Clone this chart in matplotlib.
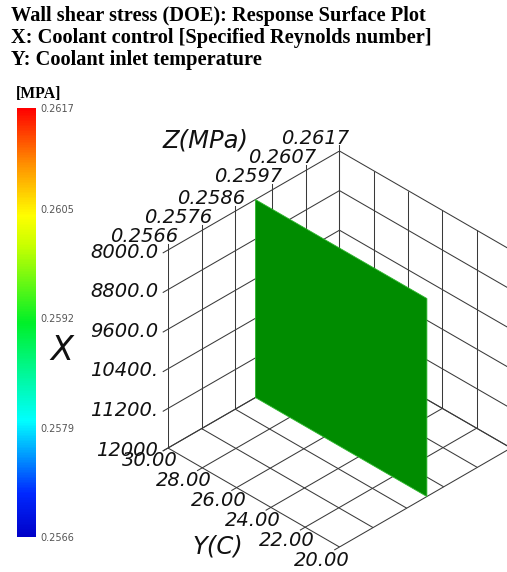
import numpy as np
import matplotlib
matplotlib.use("Agg")
import matplotlib.pyplot as plt
from matplotlib.cm import ScalarMappable
from matplotlib.colors import LinearSegmentedColormap, Normalize

# X: coolant control (Reynolds number), drawn vertically with 8000 on top
X_LIM = (8000.0, 12000.0)
X_TICKS = [8000.0, 8800.0, 9600.0, 10400.0, 11200.0, 12000.0]
X_TICK_LABELS = ["8000.0", "8800.0", "9600.0", "10400.", "11200.", "12000"]

# Y: coolant inlet temperature (C)
Y_LIM = (20.0, 30.0)
Y_TICKS = [30.0, 28.0, 26.0, 24.0, 22.0, 20.0]
Y_TICK_LABELS = ["30.00", "28.00", "26.00", "24.00", "22.00", "20.00"]

# Z: wall shear stress (MPa)
Z_LIM = (0.2566, 0.2617)
Z_TICKS = [0.2566, 0.2576, 0.2586, 0.2597, 0.2607, 0.2617]
Z_TICK_LABELS = ["0.2566", "0.2576", "0.2586", "0.2597", "0.2607", "0.2617"]

# response surface corners (X, Y) and its value
SURF_X = [8000.0, 8000.0, 12000.0, 12000.0]
SURF_Y = [30.0, 20.0, 20.0, 30.0]
SURF_Z = 0.2592

CBAR_TICKS = [0.2566, 0.2579, 0.2592, 0.2605, 0.2617]
CBAR_LABELS = ["0.2566", "0.2579", "0.2592", "0.2605", "0.2617"]

TITLE_LINES = [
    "Wall shear stress (DOE): Response Surface Plot",
    "X: Coolant control [Specified Reynolds number]",
    "Y: Coolant inlet temperature",
]

W, H = 507, 572
COS30, SIN30 = np.cos(np.pi / 6), np.sin(np.pi / 6)
GRID_C = "#3a3a3a"
SURF_C = "#008c00"
TICK_LEN = 0.028
AX_FONT = dict(family="DejaVu Sans", style="italic", color="#111111")


def norm_x(x):
    return (np.asarray(x) - X_LIM[0]) / (X_LIM[1] - X_LIM[0])


def norm_y(y):
    return (Y_LIM[1] - np.asarray(y)) / (Y_LIM[1] - Y_LIM[0])


def norm_z(z):
    return (np.asarray(z) - Z_LIM[0]) / (Z_LIM[1] - Z_LIM[0])


def project(a, b, c):
    """Isometric view: a = Z (up-right), b = Y (down-right), c = X (down)."""
    a, b, c = np.asarray(a, float), np.asarray(b, float), np.asarray(c, float)
    return (a + b) * COS30, (a - b) * SIN30 - c


def seg(ax, p0, p1, **kw):
    xs, ys = project(*np.array([p0, p1]).T)
    ax.plot(xs, ys, color=GRID_C, lw=0.75, solid_capstyle="butt", **kw)


fig = plt.figure(figsize=(W / 100, H / 100), dpi=100)

# title block
for i, line in enumerate(TITLE_LINES):
    fig.text(11 / W, 1 - (21 + 22 * i) / H, line, family="Liberation Serif",
             weight="bold", fontsize=14.7, va="baseline", ha="left")

# colour bar
cmap = LinearSegmentedColormap.from_list("mpa", [
    (0.0, "#0000c8"), (0.1, "#0028ff"), (0.27, "#00ffff"), (0.5, "#00f028"),
    (0.68, "#c8ff00"), (0.75, "#ffff00"), (0.87, "#ff9000"), (1.0, "#ff0000"),
])
cnorm = Normalize(*Z_LIM)
cax = fig.add_axes([17 / W, 1 - 537 / H, 19 / W, 429 / H])
cb = fig.colorbar(ScalarMappable(norm=cnorm, cmap=cmap), cax=cax)
cb.outline.set_visible(False)
cb.set_ticks(CBAR_TICKS, labels=CBAR_LABELS)
cax.tick_params(length=0, pad=3, labelsize=7, labelcolor="#555555")
fig.text(16 / W, 1 - 98 / H, "[MPA]", family="Liberation Serif", weight="bold",
         fontsize=11.3, va="baseline", ha="left")

# isometric box
ax = fig.add_axes([168 / W, 1 - 547 / H, 2 * COS30 * 198 / W, 396 / H])
ax.set_xlim(0, 2 * COS30)
ax.set_ylim(-1.5, 0.5)
ax.axis("off")

za = norm_z(Z_TICKS)
yb = norm_y(Y_TICKS)
xc = norm_x(X_TICKS)

# back-left wall (Y = 30)
for a in za:
    seg(ax, (a, 0, 0), (a, 0, 1))
for c in xc:
    seg(ax, (0, 0, c), (1, 0, c))
# back-right wall (Z = max)
for b in yb:
    seg(ax, (1, b, 0), (1, b, 1), clip_on=False)
for c in xc:
    seg(ax, (1, 0, c), (1, 1, c), clip_on=False)
# floor (X = 12000)
for a in za:
    seg(ax, (a, 0, 1), (a, 1, 1))
for b in yb:
    seg(ax, (0, b, 1), (1, b, 1))

# tick marks, continuing the grid lines outward
for a in za:
    x0, y0 = project(a, 0, 0)
    ax.plot([x0, x0], [y0, y0 + TICK_LEN], color=GRID_C, lw=0.75, clip_on=False)
for c in xc:
    x0, y0 = project(0, 0, c)
    ax.plot([x0, x0 - TICK_LEN * COS30], [y0, y0 - TICK_LEN * SIN30],
            color=GRID_C, lw=0.75, clip_on=False)
for b in yb:
    x0, y0 = project(0, b, 1)
    ax.plot([x0, x0 - TICK_LEN * COS30], [y0, y0 - TICK_LEN * SIN30],
            color=GRID_C, lw=0.75, clip_on=False)

# response surface
sa = norm_z([SURF_Z] * len(SURF_X))
sx, sy = project(sa, norm_y(SURF_Y), norm_x(SURF_X))
ax.fill(sx, sy, facecolor=SURF_C, edgecolor="#2fb82f", lw=0.6, zorder=3)

# tick labels
for a, lab in zip(za, Z_TICK_LABELS):
    ax.annotate(lab, project(a, 0, 0), xytext=(-24, 13), textcoords="offset pixels",
                ha="center", va="center", fontsize=14, annotation_clip=False, **AX_FONT)
for c, lab in zip(xc, X_TICK_LABELS):
    ax.annotate(lab, project(0, 0, c), xytext=(-10, -2), textcoords="offset pixels",
                ha="right", va="center", fontsize=14, annotation_clip=False, **AX_FONT)
for b, lab in zip(yb, Y_TICK_LABELS):
    ax.annotate(lab, project(0, b, 1), xytext=(-18, -13), textcoords="offset pixels",
                ha="center", va="center", fontsize=14, annotation_clip=False, **AX_FONT)

# axis titles
ax.annotate("Z(MPa)", project(0.5, 0, 0), xytext=(-48, 60), textcoords="offset pixels",
            ha="center", va="center", fontsize=17.5, annotation_clip=False, **AX_FONT)
ax.annotate("X", project(0, 0, 0.5), xytext=(-106, -1), textcoords="offset pixels",
            ha="center", va="center", fontsize=24, annotation_clip=False, **AX_FONT)
ax.annotate("Y(C)", project(0, 0.5, 1), xytext=(-36, -49), textcoords="offset pixels",
            ha="center", va="center", fontsize=17.5, annotation_clip=False, **AX_FONT)

fig.savefig("out.png", dpi=100, facecolor="white")
